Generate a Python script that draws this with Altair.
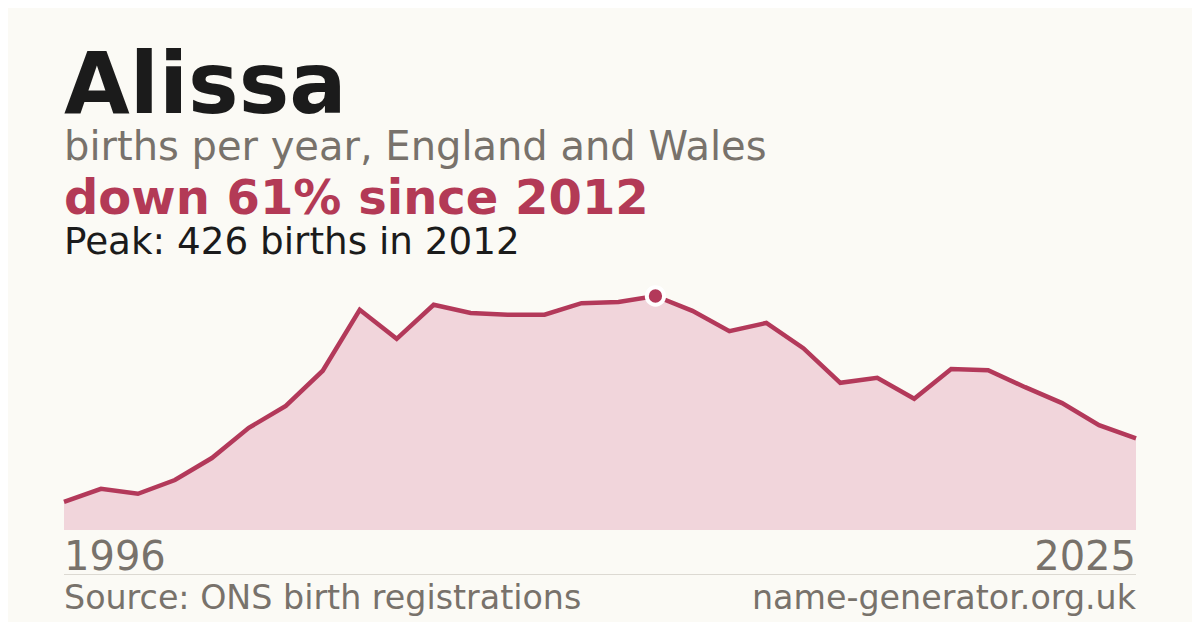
import altair as alt
import pandas as pd

years = list(range(1996, 2026))
births = [51, 75, 66, 91, 131, 186, 226, 290, 401, 348, 410, 395, 392, 392, 413,
          415, 426, 399, 362, 377, 331, 268, 277, 239, 293, 291, 260, 231, 191, 167]

name = "Alissa"
subtitle = "births per year, England and Wales"
change_text = "down 61% since 2012"
peak_text = "Peak: 426 births in 2012"
start_label = "1996"
end_label = "2025"
source_text = "Source: ONS birth registrations"
site_text = "name-generator.org.uk"
peak_year = 2012
peak_value = 426

df = pd.DataFrame({"year": years, "births": births})
peak_df = pd.DataFrame({"year": [peak_year], "births": [peak_value]})

RED = "#b3395a"
FILL = "#f1d5db"
GRAY = "#78726b"
DARK = "#1b1b1b"
FONT = "DejaVu Sans"

x = alt.X("year:Q", scale=alt.Scale(domain=[1996, 2025], nice=False, zero=False), axis=None)
y = alt.Y("births:Q", scale=alt.Scale(domain=[0, 426], nice=False), axis=None)

area = alt.Chart(df).mark_area(color=FILL, opacity=1).encode(x=x, y=y)
line = alt.Chart(df).mark_line(color=RED, strokeWidth=4.5, strokeJoin="miter").encode(x=x, y=y)
peak = alt.Chart(peak_df).mark_point(
    filled=True, shape="circle", size=300, color=RED, stroke="white", strokeWidth=4, opacity=1
).encode(x=x, y=y)


def txt(text, xpos, ypos, size, color, weight="normal", align="left"):
    return alt.Chart(pd.DataFrame({"t": [text]})).mark_text(
        font=FONT, fontSize=size, color=color, fontWeight=weight, align=align, baseline="alphabetic"
    ).encode(x=alt.value(xpos), y=alt.value(ypos), text="t:N")


W = 1072
texts = [
    txt(name, 0, -183, 85, DARK, "bold"),
    txt(subtitle, 0, -136, 40, GRAY),
    txt(change_text, 0, -82, 48, "#b33a56", "bold"),
    txt(peak_text, 0, -42, 37.3, DARK),
    txt(start_label, 0, 274, 40, GRAY),
    txt(end_label, W, 274, 40, GRAY, align="right"),
    txt(source_text, 0, 313, 33.3, GRAY),
    txt(site_text, W, 313, 33.3, GRAY, align="right"),
]

sep = alt.Chart(pd.DataFrame({"a": [0]})).mark_rule(color="#dcd9d2", strokeWidth=1).encode(
    x=alt.value(0), x2=alt.value(W), y=alt.value(278.5)
)

chart = alt.layer(area, line, peak, sep, *texts).properties(
    width=W,
    height=234,
    background="#fbfaf5",
    padding={"left": 56, "top": 288, "right": 56, "bottom": 92},
    autosize=alt.AutoSizeParams(type="none"),
).configure_view(stroke=None)

chart.save("out.html", embed_options={"renderer": "svg", "actions": False})
